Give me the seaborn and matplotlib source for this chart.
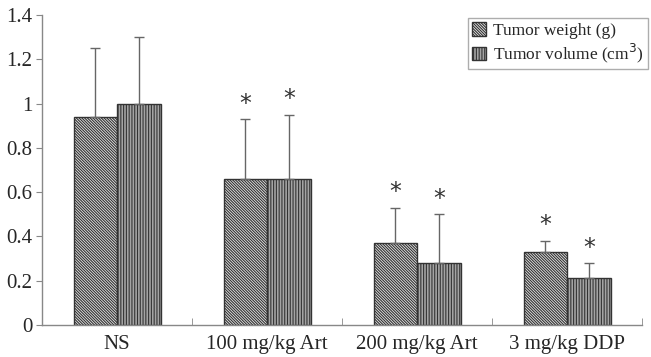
import seaborn as sns
import pandas as pd
import matplotlib.pyplot as plt
from matplotlib.ticker import FixedLocator

groups = ["NS", "100 mg/kg Art", "200 mg/kg Art", "3 mg/kg DDP"]
weight = [0.94, 0.66, 0.37, 0.33]
weight_sd = [0.31, 0.27, 0.16, 0.05]
volume = [1.00, 0.66, 0.28, 0.21]
volume_sd = [0.30, 0.29, 0.22, 0.07]
signif = [False, True, True, True]
series = ["Tumor weight (g)", "Tumor volume (cm$^3$)"]

df = pd.DataFrame({
    "group": groups * 2,
    "value": weight + volume,
    "sd": weight_sd + volume_sd,
    "series": [series[0]] * 4 + [series[1]] * 4,
})

sns.set_style("white")
plt.rcParams["font.family"] = ["Liberation Serif", "DejaVu Serif"]
plt.rcParams["hatch.linewidth"] = 0.8

fig = plt.figure(figsize=(6.51, 3.57), dpi=100)
ax = fig.add_axes([0.0645, 0.09, 0.922, 0.868])

sns.barplot(data=df, x="group", y="value", hue="series", order=groups,
            hue_order=series, palette=["#e8e8e8", "#a4a4a4"], width=0.58,
            edgecolor="#333333", linewidth=1.0, errorbar=None, ax=ax, gap=0)

hatches = ["\\" * 12, "|" * 6]
bar_containers = list(ax.containers)[:2]
for i, cont in enumerate(bar_containers):
    sub = df[df["series"] == series[i]].set_index("group").loc[groups]
    for j, bar in enumerate(cont):
        bar.set_hatch(hatches[i])
        x = bar.get_x() + bar.get_width() / 2
        h = bar.get_height()
        sd = sub["sd"].iloc[j]
        ax.errorbar([x], [h], yerr=[[0], [sd]], fmt="none", ecolor="#666666",
                    elinewidth=1.0, capsize=3.5, capthick=1.0)
        if signif[j]:
            ax.text(x, h + sd + 0.015, "*", ha="center", va="bottom",
                    fontsize=17, color="#333333", family="DejaVu Sans")

ax.set_ylim(0, 1.4)
ax.set_xlim(-0.5, 3.5)
ax.set_yticks([0, 0.2, 0.4, 0.6, 0.8, 1.0, 1.2, 1.4])
ax.set_yticklabels(["0", "0.2", "0.4", "0.6", "0.8", "1", "1.2", "1.4"])
ax.xaxis.set_minor_locator(FixedLocator([0.5, 1.5, 2.5, 3.5]))
ax.tick_params(axis="x", which="major", length=0, labelsize=15, pad=7)
ax.tick_params(axis="x", which="minor", direction="in", length=5,
               color="#888888", bottom=True)
ax.tick_params(axis="y", direction="out", length=4, color="#888888",
               labelsize=15, left=True, pad=3)
ax.set_xlabel("")
ax.set_ylabel("")
for s in ["top", "right"]:
    ax.spines[s].set_visible(False)
for s in ["left", "bottom"]:
    ax.spines[s].set_color("#888888")
    ax.spines[s].set_linewidth(1.0)

leg = ax.legend(loc="upper left", bbox_to_anchor=(0.71, 0.99), fontsize=12.5,
                frameon=True, fancybox=False, edgecolor="#999999",
                handlelength=0.8, handleheight=0.8, handletextpad=0.4,
                borderpad=0.25, labelspacing=0.15, borderaxespad=0)
for h, hatch in zip(leg.legend_handles, hatches):
    h.set_hatch(hatch)

fig.savefig("out.png", dpi=100)
